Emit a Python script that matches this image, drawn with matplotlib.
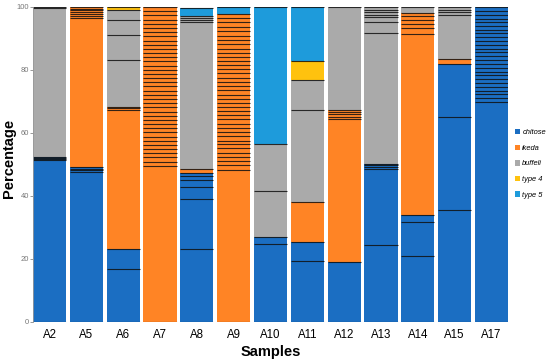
import matplotlib
matplotlib.use("Agg")
import matplotlib.pyplot as plt
from matplotlib.patches import Patch

samples = ["A2", "A5", "A6", "A7", "A8", "A9", "A10", "A11", "A12", "A13", "A14", "A15", "A17"]
categories = ["chitose", "ikeda", "buffeli", "type 4", "type 5"]
colors = ["#1B6EC2", "#FF8425", "#AAAAAA", "#FFC20E", "#1E9BDB"]

# segments (bottom to top) per sample, one list per category
chitose = [
    [51.3, 0.4, 0.4, 0.4],
    [47.6, 0.5, 0.5, 0.6],
    [16.9, 6.2],
    [],
    [23.3, 15.6, 3.8, 2.3, 1.3, 1.0],
    [],
    [24.9, 2.1],
    [19.4, 6.1],
    [19.1],
    [24.6, 24.1, 0.5, 0.5, 0.6],
    [20.9, 10.7, 2.3],
    [35.7, 29.4, 16.9],
    [69.8, 1.2, 1.3, 1.1, 1.2, 1.2, 1.3, 1.2, 1.1, 1.2, 1.3,
     1.2, 1.2, 1.3, 1.1, 1.2, 1.2, 1.3, 1.2, 1.1, 1.2,
     1.2, 1.2, 1.3, 1.2, 1.2],
]
ikeda = [
    [],
    [47.3, 0.6, 0.6, 0.6, 0.6, 0.6, 0.5],
    [44.3, 0.4, 0.4],
    [49.6, 1.3, 1.4, 1.3, 1.3, 1.4, 1.3, 1.2, 1.4, 1.3, 1.3,
     1.4, 1.3, 1.3, 1.4, 1.3, 1.2, 1.4, 1.3, 1.4, 1.3,
     1.3, 1.4, 1.3, 1.3, 1.4, 1.3, 1.2, 1.4, 1.3, 1.3,
     1.4, 1.3, 1.3, 1.4, 1.3, 1.3, 1.4, 1.3],
    [1.3],
    [48.4, 1.3, 1.4, 1.3, 1.3, 1.4, 1.3, 1.2, 1.4, 1.3, 1.3,
     1.4, 1.3, 1.3, 1.4, 1.3, 1.2, 1.4, 1.3, 1.4, 1.3,
     1.3, 1.4, 1.3, 1.3, 1.4, 1.3, 1.2, 1.4, 1.3, 1.3,
     1.4, 1.4, 1.4, 1.4, 1.4, 1.4, 1.3],
    [],
    [12.7],
    [45.4, 0.7, 0.7, 0.8, 0.7],
    [],
    [57.6, 1.7, 1.3, 1.5, 1.1, 1.0],
    [1.5],
    [],
]
buffeli = [
    [47.3, 0.2],
    [],
    [15.0, 7.9, 4.8, 3.0],
    [],
    [46.6, 0.8, 0.6, 0.5],
    [],
    [14.6, 15.0],
    [29.2, 9.3],
    [32.6],
    [41.6, 3.3, 1.7, 0.7, 0.8, 0.8, 0.8],
    [1.9],
    [14.1, 0.8, 0.8, 0.8],
    [],
]
type4 = [[], [], [1.1], [], [], [], [], [6.3], [], [], [], [], []]
type5 = [[], [], [], [], [2.5], [2.2], [43.4], [17.0], [], [], [], [], []]

plt.rcParams["font.family"] = ["Liberation Sans", "DejaVu Sans"]

fig = plt.figure(figsize=(5.5, 3.64), dpi=100)
ax = fig.add_axes([0.06, 0.1154, 0.8636, 0.8654])

width = 0.9
series = [chitose, ikeda, buffeli, type4, type5]
for i, s in enumerate(samples):
    bottom = 0.0
    bounds = [0.0]
    for cat_idx, data in enumerate(series):
        for v in data[i]:
            ax.bar(i, v, bottom=bottom, width=width, color=colors[cat_idx], linewidth=0)
            bottom += v
            bounds.append(bottom)
    ax.hlines(bounds, i - width / 2, i + width / 2, colors="#111111", linewidth=0.8, alpha=0.85)

ax.set_xlim(-0.5 + 0.05, len(samples) - 0.5 - 0.05)
ax.set_ylim(0, 100)
ax.set_xticks(range(len(samples)))
ax.set_xticklabels(samples, fontsize=8.3)
ax.set_yticks([0, 20, 40, 60, 80, 100])
ax.tick_params(axis="x", length=0, pad=5)
ax.tick_params(axis="y", length=2, width=0.6, color="#888888", labelcolor="#777777",
               labelsize=5.5, pad=1)
for sp in ["top", "right", "bottom"]:
    ax.spines[sp].set_visible(False)
ax.spines["left"].set_color("#999999")
ax.spines["left"].set_linewidth(0.6)

ax.set_xlabel("Samples", fontsize=10.5, fontweight="bold", labelpad=3)
ax.set_ylabel("Percentage", fontsize=10.5, fontweight="bold")
ax.yaxis.set_label_coords(-0.036, 0.52)

handles = [Patch(facecolor=c, edgecolor="none", label=l) for c, l in zip(colors, categories)]
leg = fig.legend(handles=handles, loc="center left", bbox_to_anchor=(0.93, 0.55),
                 frameon=False, fontsize=5.4, handlelength=0.75, handleheight=0.75,
                 handletextpad=0.3, labelspacing=1.1, borderaxespad=0)
for t in leg.get_texts():
    t.set_fontstyle("italic")

fig.savefig("out.png", dpi=100)
